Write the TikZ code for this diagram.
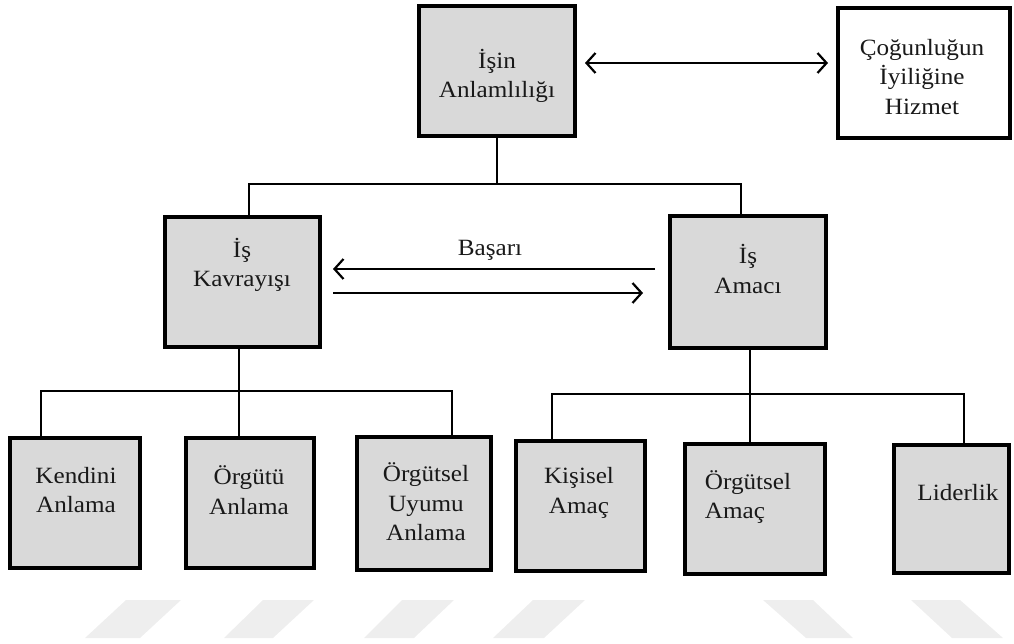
\documentclass[tikz,border=0pt]{standalone}
\usepackage{fontspec}
\setmainfont{Liberation Serif}
\newfontfamily\boxfont{Liberation Serif}[Scale=2.33, FakeStretch=1.08]
\usetikzlibrary{arrows.meta}
\definecolor{boxgrey}{HTML}{D9D9D9}
\definecolor{markgrey}{HTML}{EEEEEE}
\begin{document}
\begin{tikzpicture}[x=1pt,y=-1pt,
  box/.style={draw=black, line width=4pt, fill=boxgrey, inner sep=0pt, outer sep=0pt},
  whitebox/.style={box, fill=white},
  txt/.style={font={\fontsize{10}{29.5}\boxfont\selectfont}, align=center, inner sep=0pt, text=black!90},
  link/.style={draw=black, line width=2pt},
  arr/.style={link, line width=2.2pt, -{Straight Barb[length=9pt,width=20pt,line width=2.2pt]}},
  dblarr/.style={link, line width=2.2pt, {Straight Barb[length=9pt,width=20pt,line width=2.2pt]}-{Straight Barb[length=9pt,width=20pt,line width=2.2pt]}}
]
\useasboundingbox (0,0) rectangle (1014,644);

% faint stripes along the bottom
\begin{scope}[fill=markgrey]
  \fill (85,638) -- (140,638) -- (181,600) -- (126,600) -- cycle;
  \fill (224,638) -- (273,638) -- (314,600) -- (263,600) -- cycle;
  \fill (364,638) -- (414,638) -- (454,600) -- (402,600) -- cycle;
  \fill (493,638) -- (544,638) -- (585,600) -- (533,600) -- cycle;
  \fill (763,600) -- (813,600) -- (853,638) -- (806,638) -- cycle;
  \fill (911,600) -- (960,600) -- (1003,638) -- (952,638) -- cycle;
\end{scope}

% boxes
\node[box, minimum width=156, minimum height=130] (A) at (497,71) {};
\node[whitebox, minimum width=172, minimum height=130] (C) at (924,73) {};
\node[box, minimum width=155, minimum height=130] (K) at (242.5,282) {};
\node[box, minimum width=156, minimum height=132] (M) at (748,282) {};
\node[box, minimum width=130, minimum height=130] (K1) at (75,503) {};
\node[box, minimum width=128, minimum height=130] (K2) at (250,503) {};
\node[box, minimum width=134, minimum height=133] (K3) at (424,503.5) {};
\node[box, minimum width=129, minimum height=130] (M1) at (580.5,506) {};
\node[box, minimum width=140, minimum height=130] (M2) at (755,509) {};
\node[box, minimum width=115, minimum height=128] (M3) at (951.5,509) {};

% box texts
\node[txt] (tA) at (497,76) {İşin\\Anlamlılığı};
\node[txt] (tC) at (922,77) {Çoğunluğun\\İyiliğine\\Hizmet};
\node[txt] (tK) at (242,265) {İş\\Kavrayışı};
\node[txt] (tM) at (748,269) {İş\\Amacı};
\node[txt] (tK1) at (76,490) {Kendini\\Anlama};
\node[txt] (tK2) at (249,490) {Örgütü\\Anlama};
\node[txt] (tK3) at (426,502) {Örgütsel\\Uyumu\\Anlama};
\node[txt] (tM1) at (579,493) {Kişisel\\Amaç};
\node[txt, align=left] (tM2) at (748,497) {Örgütsel\\Amaç};
\node[txt] (tM3) at (958,493) {Liderlik};

% links between levels
\coordinate (j1) at ([shift={(0,48)}]A.south);
\draw[link] (A.south) -- (j1);
\draw[link] ([xshift=6]K.north) -- ([xshift=6]K.north |- j1)
  -- ([xshift=-7]M.north |- j1) -- ([xshift=-7]M.north);

\coordinate (j2) at ([shift={(-3.5,44)}]K.south);
\draw[link] ([xshift=-3.5]K.south) -- ([xshift=-3.5]K.south |- K2.north);
\draw[link] ([xshift=-34]K1.north) |- (j2) -| ([xshift=28]K3.north);

\coordinate (j3) at ([shift={(2,46)}]M.south);
\draw[link] ([xshift=2]M.south) -- ([xshift=2]M.south |- M2.north);
\draw[link] ([xshift=-28.5]M1.north) |- (j3) -| ([xshift=12.5]M3.north);

% arrows
\draw[dblarr] ([shift={(10,-8)}]A.east) -- ([shift={(-10,-10)}]C.west);
\draw[arr] ([shift={(-15,-13)}]M.west) -- ([shift={(13,-13)}]K.east);
\draw[arr] ([shift={(13,11)}]K.east) -- ([shift={(-27,11)}]M.west);
\node[txt] (basari) at (490,250) {Başarı};
\end{tikzpicture}
\end{document}
